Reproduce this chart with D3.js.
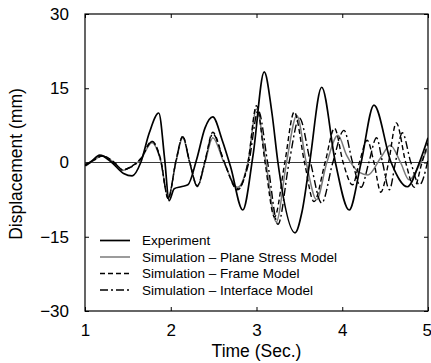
<!DOCTYPE html>
<html>
<head>
<meta charset="utf-8">
<script src="https://cdn.jsdelivr.net/npm/d3@7"></script>
<style>
    body { margin: 0; background: #fff; }
    svg text { font-family: "Liberation Sans", Arial, sans-serif; fill: #000; }
</style>
</head>
<body>
<div id="chart"></div>
<script>
// time (s) / displacement (mm)
const expT = [1.00, 1.08, 1.17, 1.30, 1.45, 1.55, 1.65, 1.75, 1.86, 1.93, 1.98, 2.04, 2.12, 2.20, 2.30, 2.40, 2.49, 2.60, 2.70, 2.84, 2.96, 3.09, 3.18, 3.25, 3.45, 3.53, 3.62, 3.76, 3.92, 4.08, 4.22, 4.37, 4.57, 4.76, 4.90, 5.00];
const expV = [-0.5, 0.3, 1.5, 0.2, -2.2, -2.7, 0.0, 6.0, 10.0, 0.5, -7.7, -5.3, -4.9, -4.5, 0.5, 7.0, 9.2, 4.5, -1.0, -9.6, 1.5, 18.3, 10.0, 0.0, -14.2, -10.0, 0.0, 15.2, 0.0, -9.6, 0.0, 11.6, 0.0, -4.9, 0.0, 5.0];

const planeT = [1.00, 1.10, 1.20, 1.35, 1.44, 1.53, 1.65, 1.78, 1.88, 1.97, 2.06, 2.14, 2.22, 2.31, 2.40, 2.49, 2.62, 2.78, 2.90, 3.00, 3.11, 3.23, 3.35, 3.47, 3.58, 3.70, 3.82, 3.95, 4.05, 4.20, 4.30, 4.45, 4.56, 4.68, 4.78, 4.90, 5.00];
const planeV = [-0.8, 0.4, 1.3, -0.2, -1.6, -0.9, 0.6, 4.0, 0.5, -7.0, 0.0, 5.0, 0.0, -4.9, 0.0, 5.0, 0.0, -5.0, 0.0, 10.8, 0.0, -12.0, 0.0, 9.5, 0.0, -7.5, 0.0, 5.5, 1.5, -2.0, -2.5, 1.0, 3.5, 0.0, -3.5, -0.5, 3.0];

const frameT = [1.00, 1.10, 1.20, 1.35, 1.44, 1.53, 1.65, 1.78, 1.88, 1.97, 2.06, 2.14, 2.22, 2.31, 2.40, 2.49, 2.62, 2.78, 2.90, 3.00, 3.10, 3.21, 3.33, 3.44, 3.56, 3.67, 3.80, 3.91, 4.01, 4.12, 4.20, 4.29, 4.37, 4.45, 4.54, 4.63, 4.74, 4.84, 4.93, 5.00];
const frameV = [-0.6, 0.5, 1.4, -0.1, -1.5, -0.9, 0.8, 4.3, 0.8, -7.3, 0.3, 5.3, 0.2, -4.7, 0.4, 6.1, 0.3, -5.5, 0.0, 11.5, 0.0, -11.0, 0.0, 10.2, 0.0, -7.9, 0.0, 6.9, 0.0, -4.5, 0.0, 4.5, 0.0, -6.0, 0.0, 8.0, 0.0, -5.0, 0.0, 4.0];

const ifaceT = [1.00, 1.10, 1.20, 1.35, 1.44, 1.53, 1.65, 1.78, 1.88, 1.97, 2.06, 2.14, 2.22, 2.31, 2.40, 2.49, 2.62, 2.78, 2.91, 3.02, 3.13, 3.25, 3.38, 3.50, 3.63, 3.76, 3.89, 4.02, 4.12, 4.22, 4.31, 4.40, 4.47, 4.55, 4.62, 4.70, 4.80, 4.90, 5.00];
const ifaceV = [-0.7, 0.4, 1.3, -0.2, -1.5, -1.0, 0.7, 4.2, 0.6, -7.2, 0.2, 5.2, 0.1, -4.8, 0.2, 5.8, 0.2, -5.3, 0.0, 10.5, 0.0, -12.5, 0.0, 9.0, 0.0, -8.2, 0.0, 6.5, 0.0, -5.0, 0.0, 5.0, 0.0, -5.5, 0.0, 6.0, 0.0, -4.5, 0.5];

const xTicks = [1, 2, 3, 4, 5];
const yTicks = [-30, -15, 0, 15, 30];
const legendLabels = ['Experiment', 'Simulation \u2013 Plane Stress Model', 'Simulation \u2013 Frame Model', 'Simulation \u2013 Interface Model'];

let svgWidth = 431,
    svgHeight = 363,
    margin = {top: 14, right: 3, bottom: 52, left: 85},
    width = svgWidth - margin.left - margin.right,
    height = svgHeight - margin.top - margin.bottom;

let svg = d3.select('#chart')
    .append('svg')
    .attr('width', svgWidth)
    .attr('height', svgHeight);

let x = d3.scaleLinear().domain([1, 5]).range([0, width]),
    y = d3.scaleLinear().domain([-30, 30]).range([height, 0]);

let g = svg.append('g')
    .attr('transform', 'translate(' + margin.left + ',' + margin.top + ')');

const tickLen = 4;
const fmt = d => d < 0 ? '\u2212' + Math.abs(d) : String(d);

// axes with inward ticks on all four sides
g.append('g')
    .attr('transform', `translate(0, ${height})`)
    .call(d3.axisBottom(x).tickValues(xTicks).tickSize(-tickLen).tickPadding(13).tickFormat(d => d))
    .call(a => a.select('.domain').remove())
    .selectAll('text')
    .style('font-size', '17px')
    // last label sits on the window edge: keep it inside
    .attr('text-anchor', d => d === 5 ? 'end' : 'middle')
    .attr('dx', d => d === 5 ? '0.2em' : 0);

g.append('g')
    .call(d3.axisTop(x).tickValues(xTicks).tickSize(-tickLen).tickFormat(''))
    .call(a => a.select('.domain').remove());

g.append('g')
    .call(d3.axisLeft(y).tickValues(yTicks).tickSize(-tickLen).tickPadding(16).tickFormat(fmt))
    .call(a => a.select('.domain').remove())
    .selectAll('text').style('font-size', '17px');

g.append('g')
    .attr('transform', `translate(${width}, 0)`)
    .call(d3.axisRight(y).tickValues(yTicks).tickSize(-tickLen).tickFormat(''))
    .call(a => a.select('.domain').remove());

g.selectAll('.tick line').attr('stroke', '#000').attr('stroke-width', 1);

// frame
g.append('rect')
    .attr('x', 0).attr('y', 0)
    .attr('width', width).attr('height', height)
    .attr('fill', 'none')
    .attr('stroke', '#000')
    .attr('stroke-width', 1.2);

// zero line
g.append('line')
    .attr('x1', 0).attr('x2', width)
    .attr('y1', y(0)).attr('y2', y(0))
    .attr('stroke', '#222')
    .attr('stroke-width', 0.9);

let line = d3.line()
    .x(d => x(d[0]))
    .y(d => y(d[1]))
    .curve(d3.curveMonotoneX);

const series = [
    {t: planeT, v: planeV, color: '#7a7a7a', w: 1.5, dash: null},
    {t: frameT, v: frameV, color: '#000', w: 1.4, dash: '5,3'},
    {t: ifaceT, v: ifaceV, color: '#000', w: 1.4, dash: '8,3,2,3'},
    {t: expT, v: expV, color: '#000', w: 1.7, dash: null}
];

g.append('clipPath').attr('id', 'clip')
    .append('rect').attr('width', width).attr('height', height);

g.append('g')
    .attr('clip-path', 'url(#clip)')
    .selectAll('path')
    .data(series)
    .enter()
    .append('path')
    .attr('d', s => line(s.t.map((t, i) => [t, s.v[i]])))
    .attr('fill', 'none')
    .attr('stroke', s => s.color)
    .attr('stroke-width', s => s.w)
    .attr('stroke-dasharray', s => s.dash);

// legend
const legendStyles = [series[3], series[0], series[1], series[2]];
let legend = g.selectAll('.legend')
    .data(legendLabels)
    .enter()
    .append('g')
    .attr('class', 'legend')
    .attr('transform', (d, i) => `translate(15, ${226.5 + i * 16.5})`);

legend.append('line')
    .attr('x1', 0).attr('x2', 30)
    .attr('stroke', (d, i) => legendStyles[i].color)
    .attr('stroke-width', (d, i) => legendStyles[i].w)
    .attr('stroke-dasharray', (d, i) => legendStyles[i].dash);

legend.append('text')
    .attr('x', 42)
    .attr('dy', '0.35em')
    .style('font-size', '13.5px')
    .text(d => d);

// axis titles
svg.append('text')
    .attr('x', margin.left + x(3))
    .attr('y', 357)
    .attr('text-anchor', 'middle')
    .style('font-size', '17.5px')
    .text('Time (Sec.)');

svg.append('text')
    .attr('transform', 'translate(22, 164) rotate(-90)')
    .attr('text-anchor', 'middle')
    .style('font-size', '17.5px')
    .text('Displacement (mm)');
</script>
</body>
</html>
